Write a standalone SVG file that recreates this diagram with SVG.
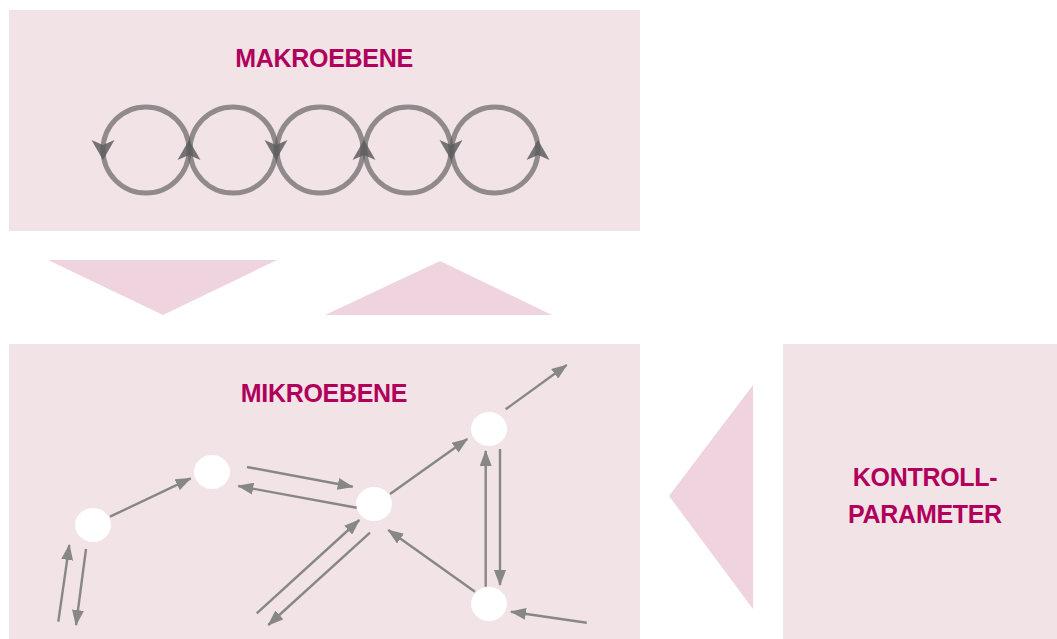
<svg xmlns="http://www.w3.org/2000/svg" width="1057" height="639" viewBox="0 0 1057 639">
<defs>
<style>
.box{fill:#f2e3e7}
.tri{fill:#efd3de}
.title{font-family:"Liberation Sans",Arial,sans-serif;font-weight:bold;font-size:25px;letter-spacing:-0.3px;fill:#b0005b;text-anchor:middle}
.loop{fill:none;stroke:#5a5a5a;stroke-opacity:0.65;stroke-width:5}
.lh{fill:#5e5e5e;fill-opacity:0.85}
.node{fill:#ffffff}
.conn line{stroke:#878787;stroke-width:2.4;marker-end:url(#ah)}
</style>
<marker id="ah" viewBox="0 0 16 12" refX="15" refY="6" markerWidth="16" markerHeight="12" markerUnits="userSpaceOnUse" orient="auto">
<path d="M0,0 L16,6 L0,12 Z" fill="#878787"/>
</marker>
<path id="hd" d="M-11.5,-10 L0,10 L11.5,-10 L0,-5 Z"/>
</defs>
<g id="makroebene">
<rect class="box" x="9" y="10" width="631" height="221"/>
<text class="title" x="324" y="67">MAKROEBENE</text>
<g id="loops">
<circle class="loop" cx="146" cy="150" r="43"/>
<circle class="loop" cx="233" cy="150" r="43"/>
<circle class="loop" cx="320" cy="150" r="43"/>
<circle class="loop" cx="408" cy="150" r="43"/>
<circle class="loop" cx="495" cy="150" r="43"/>
<use href="#hd" class="lh" transform="translate(103,150)"/>
<use href="#hd" class="lh" transform="translate(189,150) rotate(180)"/>
<use href="#hd" class="lh" transform="translate(276,150)"/>
<use href="#hd" class="lh" transform="translate(364,150) rotate(180)"/>
<use href="#hd" class="lh" transform="translate(451,150)"/>
<use href="#hd" class="lh" transform="translate(538,150) rotate(180)"/>
</g>
</g>
<g id="pfeile">
<polygon class="tri" points="48,260 277,260 163,315"/>
<polygon class="tri" points="325,315 552,315 440,261"/>
<polygon class="tri" points="753,385 753,609 669,496"/>
</g>
<g id="mikroebene">
<rect class="box" x="9" y="344" width="631" height="295"/>
<text class="title" x="324" y="402">MIKROEBENE</text>
</g>
<g id="kontrollparameter">
<rect class="box" x="783" y="344" width="274" height="295"/>
<text class="title" x="925" y="486">KONTROLL-</text>
<text class="title" x="925" y="523">PARAMETER</text>
</g>
<g id="n1"><ellipse class="node" cx="93" cy="525" rx="18" ry="17"/></g>
<g id="n2"><ellipse class="node" cx="212" cy="472" rx="18" ry="17"/></g>
<g id="n3"><ellipse class="node" cx="374" cy="504" rx="18" ry="17"/></g>
<g id="n4"><ellipse class="node" cx="489" cy="429" rx="18" ry="17"/></g>
<g id="n5"><ellipse class="node" cx="489" cy="604" rx="18" ry="17"/></g>
<g id="connectors" class="conn">
<line x1="58.3" y1="621.7" x2="69.3" y2="545"/>
<line x1="86" y1="549" x2="76" y2="625"/>
<line x1="110" y1="516.7" x2="190.7" y2="478.3"/>
<line x1="247" y1="467" x2="352.7" y2="486.7"/>
<line x1="356.7" y1="507.7" x2="238.3" y2="486"/>
<line x1="256.7" y1="613.3" x2="359.3" y2="520"/>
<line x1="370" y1="532.7" x2="268.3" y2="625"/>
<line x1="390" y1="494" x2="467.3" y2="439"/>
<line x1="505.7" y1="409.3" x2="566.7" y2="365"/>
<line x1="485.7" y1="586.7" x2="485.7" y2="451"/>
<line x1="500" y1="449" x2="500" y2="585"/>
<line x1="475" y1="591.7" x2="388.3" y2="530"/>
<line x1="586.7" y1="622.7" x2="511" y2="611.7"/>
</g>
</svg>
